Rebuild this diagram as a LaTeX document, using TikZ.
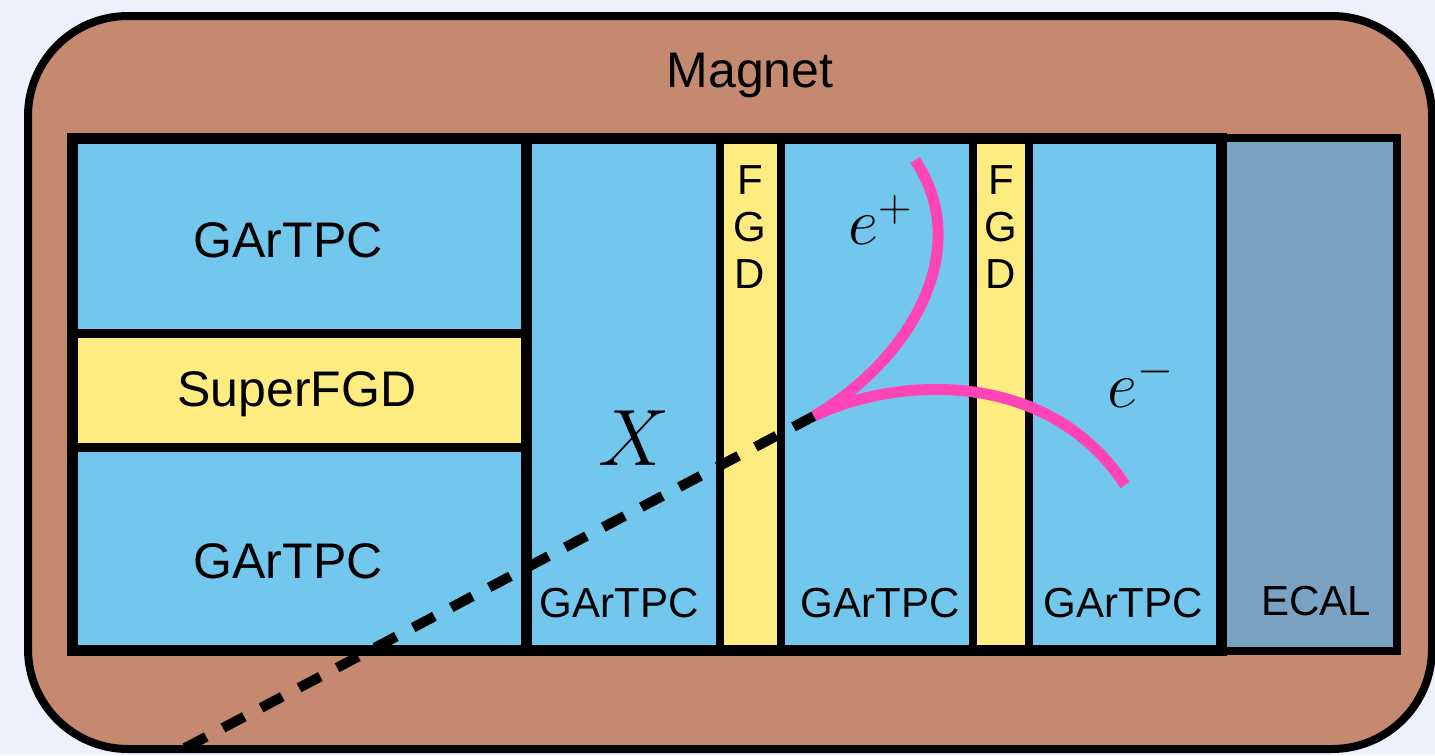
\RequirePackage{fix-cm}
\documentclass[tikz,border=0pt]{standalone}
\usepackage{fontspec}
\setsansfont{Liberation Sans}
\usetikzlibrary{positioning}
\definecolor{bglav}{RGB}{239,240,254}
\definecolor{magnetbrown}{RGB}{196,137,110}
\definecolor{tpcblue}{RGB}{115,199,236}
\definecolor{fgdyellow}{RGB}{255,236,128}
\definecolor{ecalblue}{RGB}{122,163,195}
\definecolor{trackpink}{RGB}{255,68,184}

\begin{document}
\begin{tikzpicture}[
        x=1pt, y=-1pt,
        wall/.style={draw=black, line width=#1},
        wall/.default=9pt,
        lbl/.style={font=\sffamily\fontsize{#1}{#1}\selectfont, inner sep=0pt, anchor=base},
        mathlbl/.style={font=\fontsize{#1}{#1}\selectfont, inner sep=0pt},
        fgdtxt/.style={font=\sffamily\fontsize{42}{47}\selectfont, inner sep=0pt,
            align=center, anchor=north},
        track/.style={trackpink, line width=11pt},
        dashtrack/.style={black, line width=10pt, dash pattern=on 24pt off 19pt}
    ]
        \useasboundingbox (0,0) rectangle (1435,755);
        \fill[bglav] (0,0) rectangle (1435,755);
        % magnet
        \draw[wall=8pt, fill=magnetbrown, rounded corners=100pt] (28,16) rectangle (1432,749);
        \node[lbl=50] (magnet) at (750,87) {Magnet};
        % tracker volume
        \fill[tpcblue] (72,138) rectangle (1221,650);
        \draw[wall, fill=fgdyellow] (72,333) rectangle (526,447);
        \draw[wall=8pt, fill=fgdyellow] (720,138) rectangle (781,650);
        \draw[wall=8pt, fill=fgdyellow] (973,138) rectangle (1029,650);
        \draw[wall=11pt] (526,138) -- (526,650);
        % ecal
        \draw[wall=8.5pt, fill=ecalblue] (1221,138) rectangle (1397,651);
        \draw[wall=11pt] (72,138) rectangle (1221,650);
        % labels
        \node[lbl=50] (tpcup) at (288,257) {GArTPC};
        \node[lbl=50] (sfgd) at (297,406) {SuperFGD};
        \node[lbl=50] (tpcdown) at (288,578) {GArTPC};
        \node[lbl=42] (tpca) at (619,617) {GArTPC};
        \node[lbl=42] (tpcb) at (880,617) {GArTPC};
        \node[lbl=42] (tpcc) at (1123,617) {GArTPC};
        \node[lbl=42] (ecal) at (1316,615) {ECAL};
        \node[fgdtxt] (fgda) at (750,165) {F\\G\\D};
        \node[fgdtxt] (fgdb) at (1001,165) {F\\G\\D};
        \node[mathlbl=80] (x) at (634,438) {$X$};
        \node[mathlbl=66] (ep) at (880,220) {$e^+$};
        \node[mathlbl=66] (em) at (1141,382) {$e^-$};
        % tracks
        \coordinate (entry) at (185,748);
        \coordinate (vtx) at (814,416);
        \coordinate (epend) at (915,160);
        \coordinate (emend) at (1125,485);
        \draw[dashtrack] (entry) -- (vtx);
        \draw[track] (vtx) .. controls (910,360) and (975,250) .. (epend);
        \draw[track] (vtx) .. controls (900,375) and (1050,370) .. (emend);
    \end{tikzpicture}
\end{document}
